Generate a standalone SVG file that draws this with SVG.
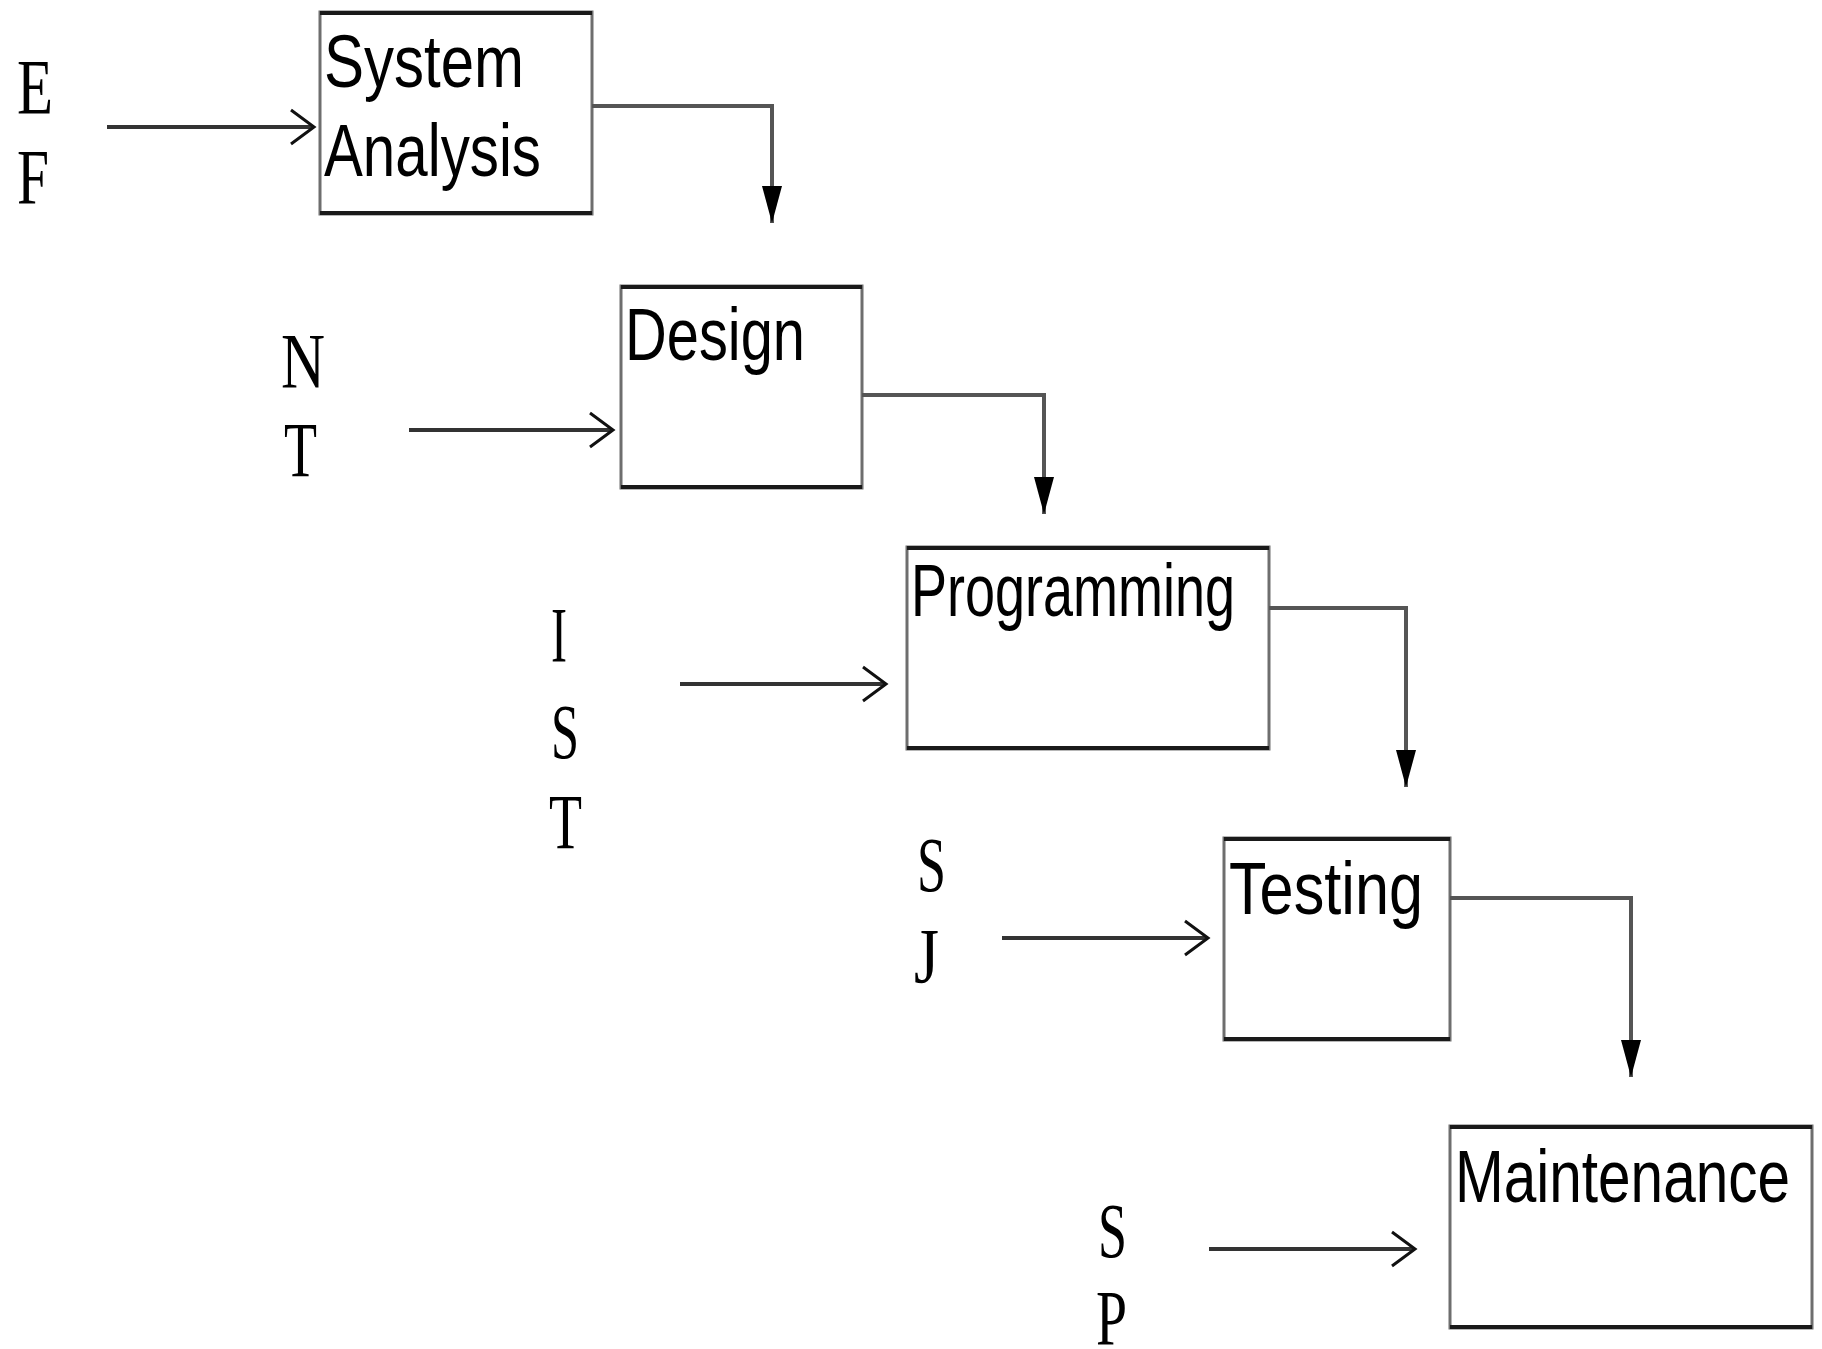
<svg xmlns="http://www.w3.org/2000/svg" width="1822" height="1349" viewBox="0 0 1822 1349">
  <style>
    .box { fill: #ffffff; stroke: #6e6e6e; stroke-width: 3; }
    .edge { stroke: #1a1a1a; stroke-width: 4; }
    .label { font-family: "Liberation Sans", Arial, sans-serif; font-size: 74px; fill: #000; }
    .tag { font-family: "Liberation Serif", "Times New Roman", serif; font-size: 78px; fill: #000; }
    .input { stroke: #333333; stroke-width: 4; fill: none; }
    .flow { stroke: #555555; stroke-width: 4; fill: none; }
  </style>
  <defs>
    <marker id="open" markerUnits="userSpaceOnUse" markerWidth="30" markerHeight="40" viewBox="-26 -20 30 40" refX="0" refY="0" orient="auto">
      <path d="M-23,-17 L0,0 L-23,17" fill="none" stroke="#111" stroke-width="3"/>
    </marker>
    <marker id="solid" markerUnits="userSpaceOnUse" markerWidth="40" markerHeight="24" viewBox="-38 -12 40 24" refX="0" refY="0" orient="auto">
      <path d="M-37,-10 L0,0 L-37,10 Z" fill="#000"/>
    </marker>
  </defs>

  <!-- stage boxes -->
  <g id="system-analysis">
    <rect class="box" x="320" y="12" width="272" height="202"/>
    <line class="edge" x1="320" y1="13" x2="592" y2="13"/>
    <line class="edge" x1="320" y1="213" x2="592" y2="213"/>
    <text class="label" x="324" y="87" textLength="200" lengthAdjust="spacingAndGlyphs">System</text>
    <text class="label" x="324" y="176" textLength="217" lengthAdjust="spacingAndGlyphs">Analysis</text>
  </g>
  <g id="design">
    <rect class="box" x="621" y="286" width="241" height="202"/>
    <line class="edge" x1="621" y1="287" x2="862" y2="287"/>
    <line class="edge" x1="621" y1="487" x2="862" y2="487"/>
    <text class="label" x="625" y="360" textLength="180" lengthAdjust="spacingAndGlyphs">Design</text>
  </g>
  <g id="programming">
    <rect class="box" x="907" y="547" width="362" height="202"/>
    <line class="edge" x1="907" y1="548" x2="1269" y2="548" stroke="#777"/>
    <line class="edge" x1="907" y1="748" x2="1269" y2="748" stroke="#777"/>
    <text class="label" x="911" y="616" textLength="324" lengthAdjust="spacingAndGlyphs">Programming</text>
  </g>
  <g id="testing">
    <rect class="box" x="1224" y="838" width="226" height="202"/>
    <line class="edge" x1="1224" y1="839" x2="1450" y2="839" stroke="#444"/>
    <line class="edge" x1="1224" y1="1039" x2="1450" y2="1039" stroke="#444"/>
    <text class="label" x="1229" y="914" textLength="194" lengthAdjust="spacingAndGlyphs">Testing</text>
  </g>
  <g id="maintenance">
    <rect class="box" x="1450" y="1126" width="362" height="202"/>
    <line class="edge" x1="1450" y1="1127" x2="1812" y2="1127"/>
    <line class="edge" x1="1450" y1="1327" x2="1812" y2="1327"/>
    <text class="label" x="1455" y="1202" textLength="335" lengthAdjust="spacingAndGlyphs">Maintenance</text>
  </g>

  <!-- side letters -->
  <g id="tags-1">
    <text class="tag" x="17" y="113" textLength="36" lengthAdjust="spacingAndGlyphs">E</text>
    <text class="tag" x="17" y="203" textLength="32" lengthAdjust="spacingAndGlyphs">F</text>
  </g>
  <g id="tags-2">
    <text class="tag" x="281" y="387" textLength="44" lengthAdjust="spacingAndGlyphs">N</text>
    <text class="tag" x="284" y="476" textLength="33" lengthAdjust="spacingAndGlyphs">T</text>
  </g>
  <g id="tags-3">
    <text class="tag" x="551" y="661" textLength="16" lengthAdjust="spacingAndGlyphs">I</text>
    <text class="tag" x="551" y="758" textLength="28" lengthAdjust="spacingAndGlyphs">S</text>
    <text class="tag" x="549" y="848" textLength="33" lengthAdjust="spacingAndGlyphs">T</text>
  </g>
  <g id="tags-4">
    <text class="tag" x="917" y="891" textLength="29" lengthAdjust="spacingAndGlyphs">S</text>
    <text class="tag" x="914" y="982" textLength="25" lengthAdjust="spacingAndGlyphs">J</text>
  </g>
  <g id="tags-5">
    <text class="tag" x="1098" y="1257" textLength="29" lengthAdjust="spacingAndGlyphs">S</text>
    <text class="tag" x="1096" y="1344" textLength="31" lengthAdjust="spacingAndGlyphs">P</text>
  </g>

  <!-- connectors -->
  <g id="connectors">
    <line class="input" x1="107" y1="127" x2="314" y2="127" marker-end="url(#open)"/>
    <line class="input" x1="409" y1="430" x2="613" y2="430" marker-end="url(#open)"/>
    <line class="input" x1="680" y1="684" x2="886" y2="684" marker-end="url(#open)"/>
    <line class="input" x1="1002" y1="938" x2="1208" y2="938" marker-end="url(#open)"/>
    <line class="input" x1="1209" y1="1249" x2="1415" y2="1249" marker-end="url(#open)"/>

    <polyline class="flow" points="592,106 772,106 772,223" marker-end="url(#solid)"/>
    <polyline class="flow" points="862,395 1044,395 1044,514" marker-end="url(#solid)"/>
    <polyline class="flow" points="1269,608 1406,608 1406,787" marker-end="url(#solid)"/>
    <polyline class="flow" points="1450,898 1631,898 1631,1077" marker-end="url(#solid)"/>
  </g>
</svg>
